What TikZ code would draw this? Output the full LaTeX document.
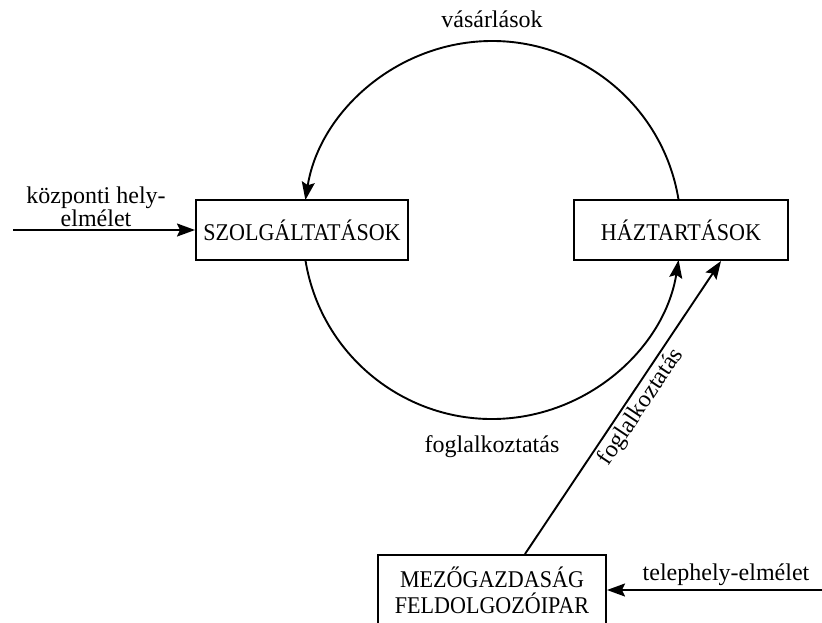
\documentclass[tikz,border=0pt]{standalone}
\usepackage{fontspec}
\setmainfont{Liberation Serif}
\newfontfamily\boxfont{Liberation Serif}[FakeStretch=0.92]
\usetikzlibrary{arrows.meta,calc}

\begin{document}
\begin{tikzpicture}[x=1pt,y=-1pt,
  block/.style={draw, line width=2pt, fill=white, inner sep=0pt,
    font=\boxfont\fontsize{24}{26}\selectfont, minimum height=60pt},
  lbl/.style={font=\fontsize{24}{21}\selectfont, inner sep=0pt},
  flow/.style={line width=1.9pt,
    -{Stealth[length=18pt,width=13pt,inset=3pt]}}]
\useasboundingbox (0,0) rectangle (822,622);

% boxes
\node[block, minimum width=212pt] (szolg) at (302,230) {SZOLGÁLTATÁSOK};
\node[block, minimum width=214pt] (haz) at (681,230) {HÁZTARTÁSOK};
\node[block, minimum width=228pt, minimum height=70pt, align=center]
  (mezo) at (492,590) {MEZŐGAZDASÁG\\FELDOLGOZÓIPAR};

% free ends and circle centre
\coordinate (ctr) at (492,230);
\coordinate (kpstart) at (13,230);
\coordinate (tpstart) at (824,590);

% circular flows between services and households
\draw[flow] ($(ctr)+(-9.13:189)$) arc[start angle=-9.13, end angle=-170.87, radius=189];
\draw[flow] ($(ctr)+(170.87:189)$) arc[start angle=170.87, end angle=9.13, radius=189];

% straight flows
\draw[flow] (kpstart) -- (szolg.west);
\draw[flow] (tpstart) -- (mezo.east);
\draw[flow] ($(mezo.north)+(33,0)$) -- node[lbl, sloped, pos=0.53, below=3pt] {foglalkoztatás}
  ($(haz.south west)+(148,0)$);

% labels
\node[lbl, anchor=base] (vas) at (492,27) {vásárlások};
\node[lbl, anchor=base] (fog) at (492,452) {foglalkoztatás};
\node[lbl, align=center] (kp) at (96,207) {központi hely-\\elmélet};
\node[lbl, anchor=base] (tp) at (726,580) {telephely-elmélet};
\end{tikzpicture}
\end{document}
